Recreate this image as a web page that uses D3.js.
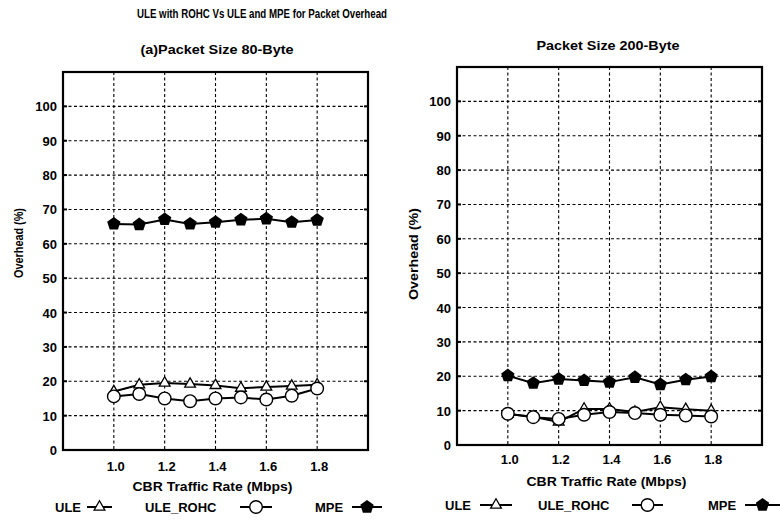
<!DOCTYPE html>
<html><head><meta charset="utf-8">
<script src="https://cdn.jsdelivr.net/npm/d3@7"></script>
<style>
body{margin:0;background:#fff;}
svg text{font-family:"Liberation Sans",Arial,Helvetica,sans-serif;fill:#000;}
</style></head>
<body><svg id="c" width="780" height="520"></svg>
<script>
const rates = [1.0, 1.1, 1.2, 1.3, 1.4, 1.5, 1.6, 1.7, 1.8];
const xTicks = [1.0, 1.2, 1.4, 1.6, 1.8];
const yTicks = [0, 10, 20, 30, 40, 50, 60, 70, 80, 90, 100];
const seriesNames = ["ULE", "ULE_ROHC", "MPE"];
// Panel (a): 80-byte packets
const ule80 = [17, 19, 19.5, 19.2, 18.8, 18, 18.3, 18.6, 19];
const rohc80 = [15.6, 16.3, 15, 14.2, 15, 15.3, 14.7, 15.8, 17.9];
const mpe80 = [65.8, 65.6, 67.1, 65.8, 66.3, 67, 67.3, 66.3, 66.9];
// Panel (b): 200-byte packets
const ule200 = [9, 8.2, 6.7, 10.5, 10.5, 9.6, 11, 10.4, 10];
const rohc200 = [9.1, 8.1, 7.6, 8.8, 9.6, 9.3, 8.8, 8.6, 8.3];
const mpe200 = [20.2, 18, 19.2, 18.8, 18.3, 19.7, 17.6, 19, 19.9];

const mainTitle = "ULE with ROHC Vs ULE and MPE for Packet Overhead";
const panelTitles = ["(a)Packet Size 80-Byte", "Packet Size 200-Byte"];
const xLabel = "CBR Traffic Rate (Mbps)";
const yLabel = "Overhead (%)";

const svg = d3.select("#c");
svg.append("text").attr("x", 262).attr("y", 18).attr("text-anchor", "middle")
  .attr("font-size", 13).attr("font-weight", "bold")
  .attr("textLength", 250).attr("lengthAdjust", "spacingAndGlyphs").text(mainTitle);

const panels = [
  {x0: 63, x1: 368, top: 72, bottom: 450, title: panelTitles[0], tx: 217, ty: 54, tl: 153,
   data: [ule80, rohc80, mpe80], ylx: 23, yly: 243, yll: 70, tickY: 471, xlY: 491, legY: 512,
   leg: [{t: 55, l0: 87, l1: 112}, {t: 145, l0: 240, l1: 272}, {t: 315, l0: 352, l1: 382}]},
  {x0: 457, x1: 762, top: 67, bottom: 445, title: panelTitles[1], tx: 608, ty: 50, tl: 143,
   data: [ule200, rohc200, mpe200], ylx: 418, yly: 254, yll: 92, tickY: 464, xlY: 486, legY: 510,
   leg: [{t: 445, l0: 480, l1: 512}, {t: 538, l0: 632, l1: 663}, {t: 708, l0: 745, l1: 780}]}
];

function pentagonPath(r) {
  const pts = d3.range(5).map(i => {
    const a = -Math.PI / 2 + i * 2 * Math.PI / 5;
    return [r * Math.cos(a), r * Math.sin(a)];
  });
  return "M" + pts.map(p => p.join(",")).join("L") + "Z";
}
function drawMarker(g, k, cx, cy) {
  if (k === 0) {
    g.append("path").attr("d", d3.symbol().type(d3.symbolTriangle).size(50)())
      .attr("transform", `translate(${cx},${cy})`).attr("fill", "#fff").attr("stroke", "#000").attr("stroke-width", 1.3);
  } else if (k === 1) {
    g.append("circle").attr("cx", cx).attr("cy", cy).attr("r", 6.3)
      .attr("fill", "#fff").attr("stroke", "#000").attr("stroke-width", 1.4);
  } else {
    g.append("path").attr("d", pentagonPath(7))
      .attr("transform", `translate(${cx},${cy})`).attr("fill", "#000");
  }
}

panels.forEach(p => {
  const x = d3.scaleLinear().domain([0.8, 2.0]).range([p.x0, p.x1]);
  const y = d3.scaleLinear().domain([0, 110]).range([p.bottom, p.top]);
  const g = svg.append("g");

  g.selectAll(".hg").data(yTicks.filter(v => v > 0)).join("line")
    .attr("x1", p.x0).attr("x2", p.x1).attr("y1", d => y(d)).attr("y2", d => y(d))
    .attr("stroke", "#000").attr("stroke-width", 1.1).attr("stroke-dasharray", "3,2.5");
  g.selectAll(".vg").data(xTicks).join("line")
    .attr("x1", d => x(d)).attr("x2", d => x(d)).attr("y1", p.top).attr("y2", p.bottom)
    .attr("stroke", "#000").attr("stroke-width", 1.1).attr("stroke-dasharray", "3,2.5");
  g.selectAll(".tl").data(yTicks).join("line")
    .attr("x1", p.x0).attr("x2", p.x0 + 4).attr("y1", d => y(d)).attr("y2", d => y(d))
    .attr("stroke", "#000").attr("stroke-width", 2);
  g.selectAll(".tr").data(yTicks).join("line")
    .attr("x1", p.x1 - 4).attr("x2", p.x1).attr("y1", d => y(d)).attr("y2", d => y(d))
    .attr("stroke", "#000").attr("stroke-width", 2);
  g.append("rect").attr("x", p.x0).attr("y", p.top).attr("width", p.x1 - p.x0).attr("height", p.bottom - p.top)
    .attr("fill", "none").attr("stroke", "#000").attr("stroke-width", 2.2);

  g.selectAll(".yl").data(yTicks).join("text")
    .attr("x", p.x0 - 6).attr("y", d => y(d) + 5).attr("text-anchor", "end")
    .attr("font-size", 13).attr("font-weight", "bold").text(d => d);
  g.selectAll(".xl").data(xTicks).join("text")
    .attr("x", d => x(d) + 2).attr("y", p.tickY).attr("text-anchor", "middle")
    .attr("font-size", 13).attr("font-weight", "bold").text(d => d.toFixed(1));

  g.append("text").attr("x", p.tx).attr("y", p.ty).attr("text-anchor", "middle")
    .attr("font-size", 12.5).attr("font-weight", "bold")
    .attr("textLength", p.tl).attr("lengthAdjust", "spacingAndGlyphs").text(p.title);
  g.append("text").attr("x", (p.x0 + p.x1) / 2 - 3).attr("y", p.xlY).attr("text-anchor", "middle")
    .attr("font-size", 12.5).attr("font-weight", "bold")
    .attr("textLength", 160).attr("lengthAdjust", "spacingAndGlyphs").text(xLabel);
  g.append("text").attr("transform", `translate(${p.ylx},${p.yly}) rotate(-90)`).attr("text-anchor", "middle")
    .attr("font-size", 12.5).attr("font-weight", "bold")
    .attr("textLength", p.yll).attr("lengthAdjust", "spacingAndGlyphs").text(yLabel);

  const line = d3.line().x((d, i) => x(rates[i])).y(d => y(d));
  p.data.forEach(vals => {
    g.append("path").attr("d", line(vals)).attr("fill", "none").attr("stroke", "#000").attr("stroke-width", 2);
  });
  p.data.forEach((vals, k) => {
    vals.forEach((v, i) => drawMarker(g, k, x(rates[i]), y(v)));
  });

  p.leg.forEach((L, k) => {
    g.append("text").attr("x", L.t).attr("y", p.legY).attr("font-size", 13).attr("font-weight", "bold").text(seriesNames[k]);
    g.append("line").attr("x1", L.l0).attr("x2", L.l1).attr("y1", p.legY - 5).attr("y2", p.legY - 5)
      .attr("stroke", "#000").attr("stroke-width", 2);
    drawMarker(g, k, (L.l0 + L.l1) / 2, p.legY - 5);
  });
});
</script></body></html>
